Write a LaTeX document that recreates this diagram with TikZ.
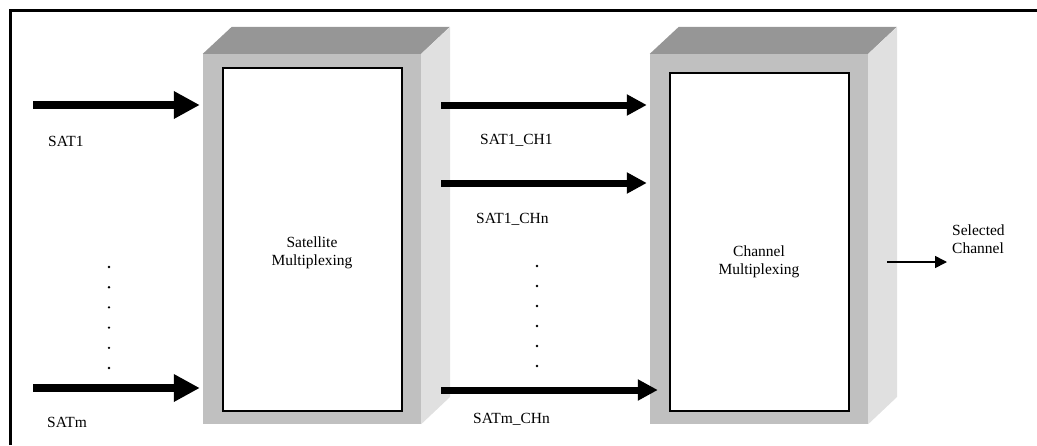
\documentclass[tikz,border=0pt]{standalone}
\usepackage{fontspec}
\setmainfont{Liberation Serif}
\usetikzlibrary{arrows.meta}

\definecolor{facetop}{HTML}{969696}
\definecolor{facefront}{HTML}{C0C0C0}
\definecolor{faceside}{HTML}{E0E0E0}

\tikzset{
    front/.style={fill=facefront,minimum width=218pt,minimum height=370pt,inner sep=0pt},
    inner/.style={draw,fill=white,line width=1.1pt,inner sep=0pt},
    fatarrow/.style={line width=8.5pt,-{Triangle[length=26pt,width=26pt]}},
    midarrow/.style={line width=7pt,-{Triangle[length=20pt,width=20pt]}},
    outarrow/.style={line width=1.6pt,-{Triangle[length=12pt,width=12pt]}},
    lbl/.style={font=\fontsize{15.5}{18.5}\selectfont,inner sep=0pt},
}

\begin{document}
\begin{tikzpicture}[x=1pt,y=-1pt]
    \useasboundingbox (0,0) rectangle (1037,445);
    \draw[line width=3.5pt] (10.7,445) |- (1037,10.7);

    % boxes
    \node[front] (satfront) at (312,239) {};
    \node[front] (chfront) at (759,239) {};
    \foreach \b in {satfront,chfront} {
            \fill[facetop] (\b.north west) -- ++(29,-27) -- ++(218,0) -- (\b.north east) -- cycle;
            \fill[faceside] (\b.north east) -- ++(29,-27) -- ++(0,370) -- (\b.south east) -- cycle;
        }
    \node[inner,minimum width=179pt,minimum height=343pt] (satmux) at (312.5,239.5) {};
    \node[inner,minimum width=179pt,minimum height=338pt] (chmux) at (759.5,242) {};

    \begin{scope}[lbl,align=center]
        \node (satlbl) at (312,253) {Satellite\\Multiplexing};
        \node (chlbl) at (759,262) {Channel\\Multiplexing};
    \end{scope}

    % inputs
    \coordinate (in1) at (33,105);
    \coordinate (inm) at (33,388);
    \coordinate (ch1) at (441,105);
    \coordinate (chn) at (441,183);
    \coordinate (chm) at (441,390);
    \coordinate (out) at (887,262);
    \coordinate (outend) at (947,262);

    \begin{scope}[shorten >=3pt]
        \draw[fatarrow] (in1) -- (in1 -| satfront.west);
        \draw[fatarrow] (inm) -- (inm -| satfront.west);
        \draw[midarrow] (ch1) -- (ch1 -| chfront.west);
        \draw[midarrow] (chn) -- (chn -| chfront.west);
    \end{scope}
    \draw[midarrow] (chm) -- ([xshift=8pt]chm -| chfront.west);
    \draw[outarrow] (out) -- (outend);

    \begin{scope}[lbl,anchor=base west]
        \node (sat1) at (48,146) {SAT1};
        \node (satm) at (47,427) {SATm};
        \node (sat1ch1) at (480,144) {SAT1\_CH1};
        \node (sat1chn) at (476,223) {SAT1\_CHn};
        \node (satmchn) at (473,423) {SATm\_CHn};
    \end{scope}
    \node[lbl,anchor=west,align=left] (sel) at (952,239) {Selected\\Channel};

    % dots
    \foreach \y in {0,...,5} {
            \fill (109,267+20.2*\y) circle (1.3);
            \fill (537,266+20*\y) circle (1.3);
        }
\end{tikzpicture}
\end{document}
